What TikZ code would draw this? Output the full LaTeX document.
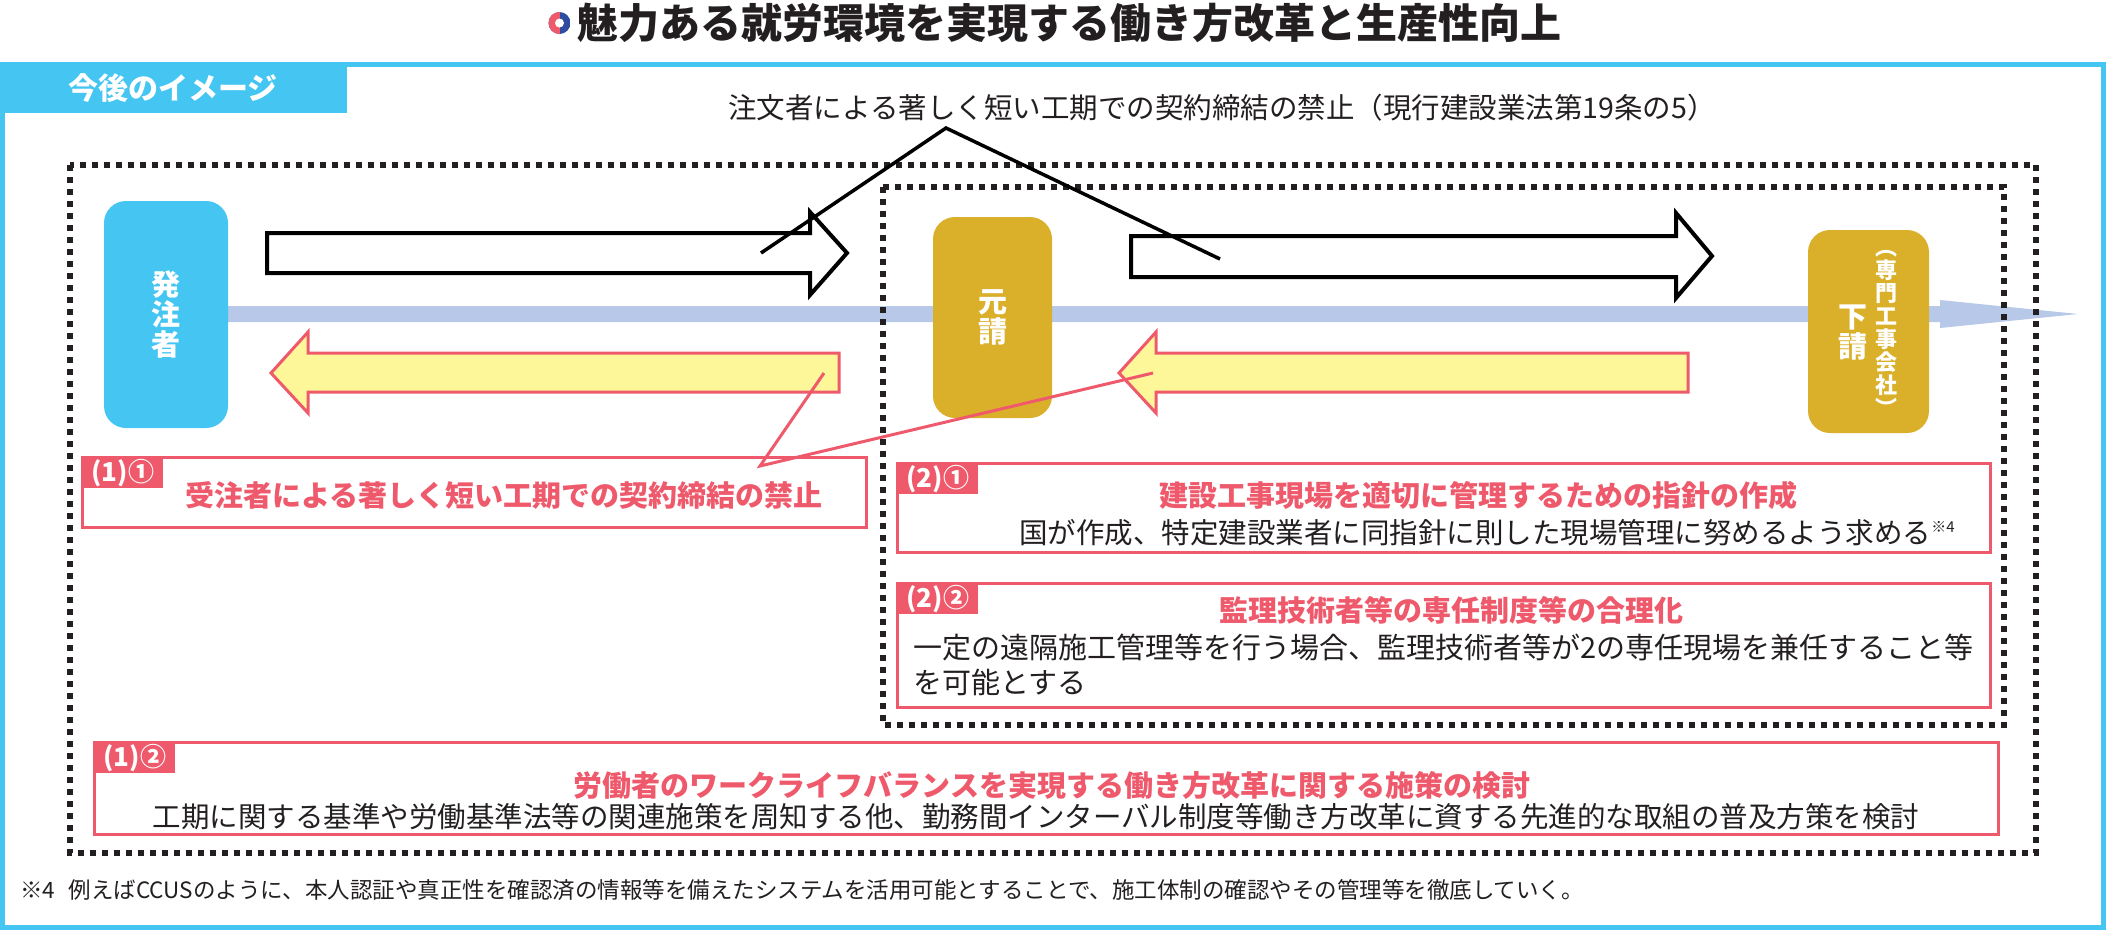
\documentclass[tikz,border=0pt]{standalone}
\usepackage{fontspec}
\setmainfont{Noto Sans CJK JP}
\usetikzlibrary{calc}
\definecolor{skyblue}{RGB}{69,197,241}
\definecolor{goldbox}{RGB}{218,176,43}
\definecolor{bandblue}{RGB}{184,200,232}
\definecolor{paleyellow}{RGB}{253,247,153}
\definecolor{pinkred}{RGB}{238,90,108}
\definecolor{darktext}{RGB}{35,31,32}
\definecolor{navyblue}{RGB}{47,77,160}

\begin{document}
\begin{tikzpicture}[x=1pt,y=-1pt,
  pinkbox/.style={draw=pinkred,line width=3pt,inner sep=0pt},
  tagbox/.style={fill=pinkred,text=white,font=\fontsize{26}{28}\selectfont\bfseries,minimum width=81pt,minimum height=31pt,inner sep=0pt,anchor=north west},
  headtext/.style={text=pinkred,font=\fontsize{29}{32}\selectfont\bfseries,inner sep=0pt},
  bodytext/.style={text=darktext,font=\fontsize{28.5}{35}\selectfont,inner sep=0pt},
  party/.style={rounded corners=22pt,text=white,inner sep=0pt,align=center,font=\fontsize{29}{30}\selectfont\bfseries},
  dotbox/.style={draw=darktext,line width=6pt,dash pattern=on 6pt off 6pt},
  blockarrow/.style={draw=black,line width=4pt,fill=white,line join=miter},
  backarrow/.style={draw=pinkred,line width=3pt,fill=paleyellow,line join=miter}]
\useasboundingbox (0,0) rectangle (2107,930);
\draw[skyblue,line width=5pt] (2.5,64.5) rectangle (2103.5,927.5);
\fill[skyblue] (0,62) rectangle (347,113);
\node[text=white,font=\fontsize{30}{32}\selectfont\bfseries] (future) at (173,88) {今後のイメージ};
\begin{scope}
\clip (559.5,23) circle[radius=11pt];
\fill[navyblue] (548,11) rectangle (571,35);
\fill[pinkred] (548,11) rectangle (559.5,35);
\end{scope}
\fill[white] (559.5,23) circle[radius=4.5pt];
\node[anchor=west,inner sep=0pt,text=darktext,font=\fontsize{41}{44}\selectfont\bfseries] (title) at (577,23) {魅力ある就労環境を実現する働き方改革と生産性向上};
\node[bodytext] (chumon) at (1222,108) {注文者による著しく短い工期での契約締結の禁止（現行建設業法第19条の5）};

\fill[bandblue] (220,306) -- (1940,306) -- (1940,300) -- (2078,314) -- (1940,328) -- (1940,322) -- (220,322) -- cycle;
\draw[dotbox] (70,165) rectangle (2036,853);
\draw[dotbox] (883,187) rectangle (2004,725);

\node[party,fill=skyblue,minimum width=124pt,minimum height=227pt] (hatchu) at (166,314.5) {発\\注\\者};
\node[party,fill=goldbox,minimum width=119pt,minimum height=201pt] (motouke) at (992.5,317.5) {元\\請};
\node[party,fill=goldbox,minimum width=121pt,minimum height=203pt] (shitauke) at (1868.5,331.5) {};
\node[party] (shitaukename) at (1853,333) {下\\請};
\node[party,font=\fontsize{22}{23}\selectfont\bfseries] (senmon) at (1886,333) {︵\\専\\門\\工\\事\\会\\社\\︶};

\draw[blockarrow] (267,233) -- (810,233) -- (810,212) -- (847,253) -- (810,295) -- (810,273) -- (267,273) -- cycle;
\draw[blockarrow] (1131,236) -- (1676,236) -- (1676,213) -- (1712,256) -- (1676,298) -- (1676,277) -- (1131,277) -- cycle;
\draw[backarrow] (839,353) -- (308,353) -- (308,332) -- (271,373) -- (308,413) -- (308,392) -- (839,392) -- cycle;
\draw[backarrow] (1688,353) -- (1156,353) -- (1156,332) -- (1119,373) -- (1156,413) -- (1156,392) -- (1688,392) -- cycle;

\coordinate (ordleft) at (761,253);
\coordinate (ordapex) at (946,128);
\coordinate (ordright) at (1220,259);
\draw[line width=3.5pt] (ordleft) -- (ordapex) -- (ordright);

\node[pinkbox,minimum width=784pt,minimum height=70pt] (box11) at (474,492) {};
\node[tagbox] (tag11) at (82,457) {(1)①};
\node[headtext] (head11) at (504,495) {受注者による著しく短い工期での契約締結の禁止};

\node[pinkbox,minimum width=1093pt,minimum height=89pt] (box21) at (1443.5,507.5) {};
\node[tagbox] (tag21) at (897,463) {(2)①};
\node[headtext] (head21) at (1478,495) {建設工事現場を適切に管理するための指針の作成};
\node[bodytext] (body21) at (1487,533) {国が作成、特定建設業者に同指針に則した現場管理に努めるよう求める\raisebox{11pt}{\fontsize{15}{15}\selectfont※4}};

\node[pinkbox,minimum width=1093pt,minimum height=124pt] (box22) at (1443.5,645) {};
\node[tagbox] (tag22) at (897,583) {(2)②};
\node[headtext] (head22) at (1451,610) {監理技術者等の専任制度等の合理化};
\node[bodytext,font=\fontsize{29}{35}\selectfont,anchor=west,align=left] (body22) at (913,664.5) {一定の遠隔施工管理等を行う場合、監理技術者等が2の専任現場を兼任すること等\\を可能とする};

\node[pinkbox,minimum width=1904pt,minimum height=92pt] (box12) at (1046,788) {};
\node[tagbox] (tag12) at (94,742) {(1)②};
\node[headtext] (head12) at (1052,785) {労働者のワークライフバランスを実現する働き方改革に関する施策の検討};
\node[bodytext] (body12) at (1036,817) {工期に関する基準や労働基準法等の関連施策を周知する他、勤務間インターバル制度等働き方改革に資する先進的な取組の普及方策を検討};

\coordinate (pinkleft) at (824,373);
\coordinate (pinkapex) at (760,466);
\coordinate (pinkright) at (1153,373);
\draw[pinkred,line width=3pt] (pinkleft) -- (pinkapex) -- (pinkright);

\node[anchor=west,inner sep=0pt,text=darktext,font=\fontsize{22.5}{26}\selectfont] (note) at (20,890) {※4\hspace{0.6em}例えばCCUSのように、本人認証や真正性を確認済の情報等を備えたシステムを活用可能とすることで、施工体制の確認やその管理等を徹底していく。};
\end{tikzpicture}
\end{document}
